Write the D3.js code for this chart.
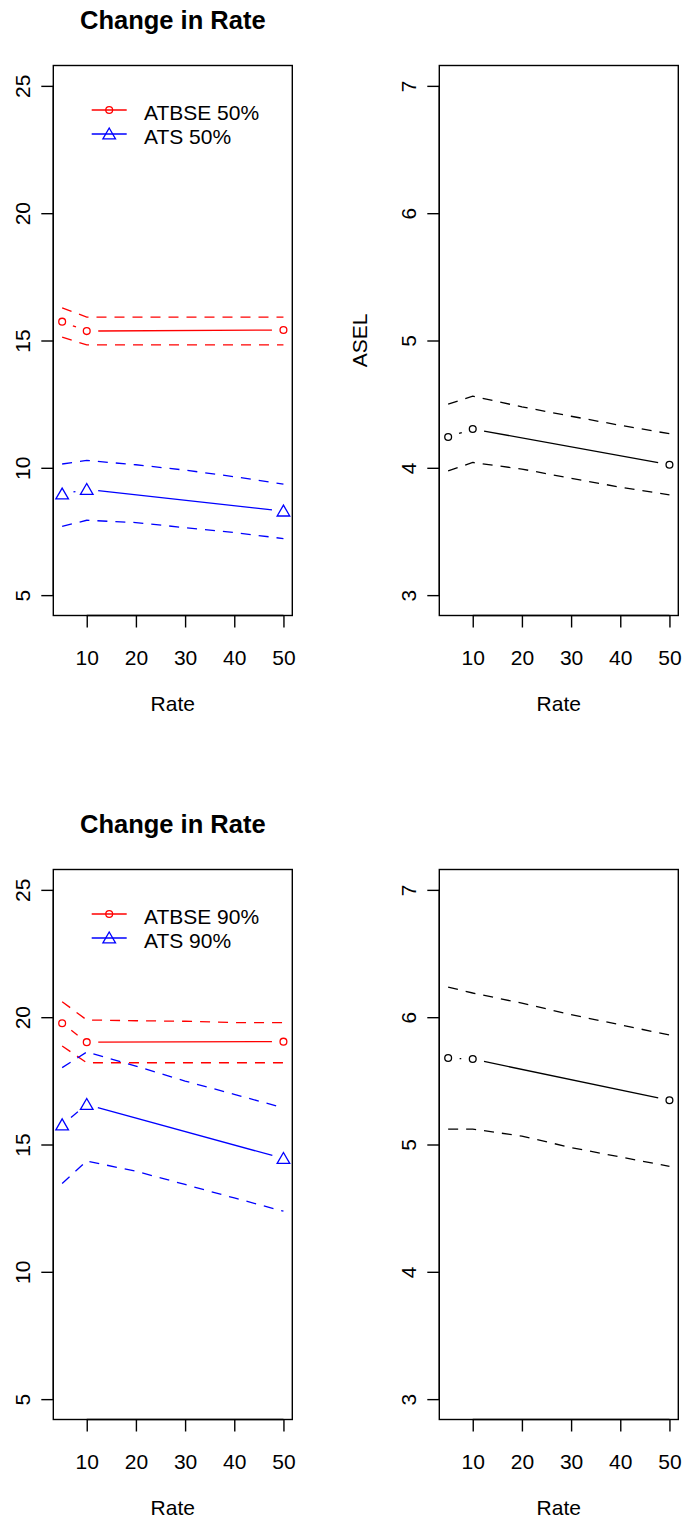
<!DOCTYPE html>
<html>
<head>
<meta charset="utf-8">
<script src="https://cdn.jsdelivr.net/npm/d3@7"></script>
<style>
  body { margin: 0; background: #fff; }
  svg text { font-family: "Liberation Sans", Arial, Helvetica, sans-serif; }
</style>
</head>
<body>
<div class="container"></div>
<script>
// data
var rate = [5, 10, 50];
var bandRate = [5, 10, 20, 30, 40, 50];

var atbse50 = [15.74, 15.37, 15.41];
var atbse50Upper = [16.28, 15.92, 15.92, 15.92, 15.92, 15.92];
var atbse50Lower = [15.13, 14.83, 14.83, 14.83, 14.83, 14.83];
var ats50 = [8.97, 9.15, 8.30];
var ats50Upper = [10.15, 10.29, 10.12, 9.91, 9.65, 9.36];
var ats50Lower = [7.70, 7.94, 7.85, 7.65, 7.46, 7.22];
var asel50 = [4.242, 4.305, 4.024];
var asel50Upper = [4.50, 4.563, 4.479, 4.405, 4.334, 4.268];
var asel50Lower = [3.976, 4.042, 3.99, 3.918, 3.848, 3.787];

var atbse90 = [19.76, 19.02, 19.04];
var atbse90Upper = [20.61, 19.89, 19.86, 19.84, 19.79, 19.79];
var atbse90Lower = [18.87, 18.21, 18.21, 18.21, 18.21, 18.21];
var ats90 = [15.77, 16.57, 14.45];
var ats90Upper = [18.02, 18.63, 18.08, 17.49, 16.97, 16.44];
var ats90Lower = [13.47, 14.35, 13.95, 13.43, 12.90, 12.38];
var asel90 = [5.679, 5.671, 5.347];
var asel90Upper = [6.236, 6.19, 6.11, 6.02, 5.94, 5.86];
var asel90Lower = [5.121, 5.121, 5.066, 4.976, 4.902, 4.829];

var xTicks = [10, 20, 30, 40, 50];
var leftYTicks = [5, 10, 15, 20, 25];
var rightYTicks = [3, 4, 5, 6, 7];

var svgWidth = 683;
var svgHeight = 1523;
var boxW = 239, boxH = 550;
var fontSize = 21;
var dash = "10,8";

var svg = d3.select(".container")
    .append("svg")
    .attr("width", svgWidth)
    .attr("height", svgHeight);

// R style axis range: 4% padding on each side
function padded(lo, hi) {
    var p = (hi - lo) * 0.04;
    return [lo - p, hi + p];
}

function makePanel(left, top, yDomain, yTicks) {
    var g = svg.append("g").attr("transform", `translate(${left}, ${top})`);
    var x = d3.scaleLinear().domain(padded(5, 50)).range([0, boxW]);
    var y = d3.scaleLinear().domain(padded(yDomain[0], yDomain[1])).range([boxH, 0]);

    g.append("rect")
        .attr("width", boxW).attr("height", boxH)
        .attr("fill", "none").attr("stroke", "#000").attr("stroke-width", 1.4);

    var bottomAxis = d3.axisBottom(x).tickValues(xTicks).tickSize(12).tickPadding(0).tickFormat(d3.format("d"));
    var ax = g.append("g").attr("transform", `translate(0, ${boxH})`).call(bottomAxis);
    ax.select(".domain").attr("d", `M${x(10)},0H${x(50)}`).attr("stroke-width", 1.4);
    ax.selectAll(".tick line").attr("stroke-width", 1.4);
    ax.selectAll("text").attr("y", 0).attr("dy", null)
        .attr("transform", "translate(0, 49)")
        .style("font-size", fontSize + "px").attr("fill", "#000");

    var leftAxis = d3.axisLeft(y).tickValues(yTicks).tickSize(12).tickFormat(d3.format("d"));
    var ay = g.append("g").call(leftAxis);
    ay.select(".domain").attr("d", `M0,${y(yTicks[0])}V${y(yTicks[yTicks.length - 1])}`).attr("stroke-width", 1.4);
    ay.selectAll(".tick line").attr("stroke-width", 1.4);
    ay.selectAll("text")
        .attr("x", null).attr("dy", null)
        .attr("text-anchor", "middle")
        .attr("transform", "translate(-23, 0) rotate(-90)")
        .style("font-size", fontSize + "px").attr("fill", "#000");

    g.append("text")
        .attr("x", boxW / 2).attr("y", boxH + 95)
        .attr("text-anchor", "middle")
        .style("font-size", fontSize + "px")
        .text("Rate");

    return { g: g, x: x, y: y };
}

function band(p, values, color) {
    var line = d3.line()
        .x((d, i) => p.x(bandRate[i]))
        .y(d => p.y(d));
    p.g.append("path")
        .datum(values)
        .attr("d", line)
        .attr("fill", "none")
        .attr("stroke", color)
        .attr("stroke-width", 1.3)
        .attr("stroke-dasharray", dash);
}

function marker(g, cx, cy, shape, color) {
    if (shape == "circle") {
        g.append("circle").attr("cx", cx).attr("cy", cy).attr("r", 3.4)
            .attr("fill", "none").attr("stroke", color).attr("stroke-width", 1.3);
    } else {
        var s = 6.3;
        g.append("path")
            .attr("d", `M${cx},${cy - s * 0.95}L${cx + s},${cy + s * 0.78}L${cx - s},${cy + s * 0.78}Z`)
            .attr("fill", "none").attr("stroke", color).attr("stroke-width", 1.3);
    }
}

// type = "b": points joined by lines with a gap around each point
function series(p, values, color, shape) {
    var gap = 11.5;
    var pts = values.map((d, i) => [p.x(rate[i]), p.y(d)]);
    for (var i = 0; i < pts.length - 1; i++) {
        var a = pts[i], b = pts[i + 1];
        var dx = b[0] - a[0], dy = b[1] - a[1];
        var len = Math.sqrt(dx * dx + dy * dy);
        if (len <= 2 * gap) continue;
        var ux = dx / len, uy = dy / len;
        p.g.append("line")
            .attr("x1", a[0] + ux * gap).attr("y1", a[1] + uy * gap)
            .attr("x2", b[0] - ux * gap).attr("y2", b[1] - uy * gap)
            .attr("stroke", color).attr("stroke-width", 1.3);
    }
    pts.forEach(d => marker(p.g, d[0], d[1], shape, color));
}

function legend(p, labels) {
    var items = [
        { label: labels[0], color: "#ff0000", shape: "circle" },
        { label: labels[1], color: "#0000ff", shape: "triangle" }
    ];
    items.forEach((it, i) => {
        var ly = 44.5 + i * 24;
        p.g.append("line")
            .attr("x1", 38.4).attr("x2", 73.4)
            .attr("y1", ly).attr("y2", ly)
            .attr("stroke", it.color).attr("stroke-width", 1.3);
        marker(p.g, 55.9, ly, it.shape, it.color);
        p.g.append("text")
            .attr("x", 90.7).attr("y", ly + 9.5)
            .style("font-size", fontSize + "px")
            .text(it.label);
    });
}

var rows = [
    { top: 65.5, tags: ["ATBSE 50%", "ATS 50%"], atbse: [atbse50, atbse50Upper, atbse50Lower],
      ats: [ats50, ats50Upper, ats50Lower], asel: [asel50, asel50Upper, asel50Lower], ylab: true },
    { top: 869.5, tags: ["ATBSE 90%", "ATS 90%"], atbse: [atbse90, atbse90Upper, atbse90Lower],
      ats: [ats90, ats90Upper, ats90Lower], asel: [asel90, asel90Upper, asel90Lower], ylab: false }
];

rows.forEach(r => {
    var pl = makePanel(53.3, r.top, [5, 25], leftYTicks);
    svg.append("text")
        .attr("x", 53.3 + boxW / 2).attr("y", r.top - 36.5)
        .attr("text-anchor", "middle")
        .style("font-size", "25.5px").style("font-weight", "bold")
        .text("Change in Rate");

    band(pl, r.atbse[1], "#ff0000");
    band(pl, r.atbse[2], "#ff0000");
    series(pl, r.atbse[0], "#ff0000", "circle");
    band(pl, r.ats[1], "#0000ff");
    band(pl, r.ats[2], "#0000ff");
    series(pl, r.ats[0], "#0000ff", "triangle");
    legend(pl, r.tags);

    var pr = makePanel(439.3, r.top, [3, 7], rightYTicks);
    band(pr, r.asel[1], "#000");
    band(pr, r.asel[2], "#000");
    series(pr, r.asel[0], "#000", "circle");
    if (r.ylab) {
        pr.g.append("text")
            .attr("transform", `translate(-72, ${boxH / 2}) rotate(-90)`)
            .attr("text-anchor", "middle")
            .style("font-size", fontSize + "px")
            .text("ASEL");
    }
});
</script>
</body>
</html>
